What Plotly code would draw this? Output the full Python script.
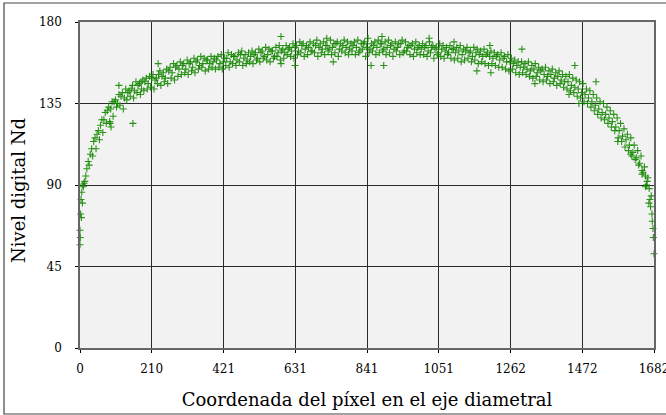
import plotly.graph_objects as go

# ---- data (pixel coordinate vs digital level) ----
xa = list(range(0, 1681, 10))
ya = [57, 89, 99, 107, 114, 118, 123, 126, 131, 132,
      136, 135, 139, 138, 141, 143, 142, 145, 143, 147,
      146, 149, 148, 151, 150, 149, 153, 152, 155, 154,
      156, 154, 157, 155, 158, 156, 157, 159, 157, 158,
      159, 157, 158, 160, 158, 161, 159, 162, 160, 159,
      161, 162, 160, 163, 161, 162, 164, 161, 163, 164,
      163, 165, 164, 166, 164, 167, 165, 166, 164, 167,
      166, 165, 167, 165, 166, 168, 165, 167, 166, 165,
      167, 166, 164, 168, 166, 165, 167, 166, 168, 165,
      166, 167, 165, 166, 168, 164, 166, 167, 165, 166,
      165, 166, 164, 166, 165, 163, 165, 164, 163, 165,
      163, 164, 162, 164, 163, 161, 163, 162, 161, 162,
      161, 160, 161, 159, 160, 158, 158, 157, 156, 155,
      155, 154, 153, 154, 152, 153, 151, 150, 151, 149,
      150, 148, 147, 147, 145, 144, 143, 141, 140, 138,
      136, 134, 132, 130, 129, 127, 125, 122, 120, 117,
      115, 112, 108, 105, 102, 97, 90, 82, 61]

xb = list(range(4, 1675, 10))
yb = [72, 92, 103, 110, 116, 120, 126, 130, 133, 136,
      137, 140, 141, 143, 142, 145, 147, 146, 148, 149,
      150, 151, 149, 153, 152, 154, 155, 157, 156, 158,
      157, 159, 158, 160, 159, 161, 160, 159, 161, 160,
      161, 162, 160, 163, 162, 161, 163, 164, 162, 163,
      164, 163, 165, 164, 166, 165, 164, 166, 167, 165,
      167, 166, 168, 167, 169, 168, 167, 169, 168, 170,
      168, 169, 167, 170, 168, 169, 168, 170, 169, 168,
      169, 170, 168, 169, 171, 168, 169, 170, 168, 169,
      170, 168, 169, 168, 170, 169, 167, 168, 169, 167,
      168, 167, 169, 167, 166, 168, 167, 166, 167, 165,
      166, 167, 165, 166, 164, 166, 165, 164, 165, 163,
      164, 163, 162, 163, 161, 162, 160, 159, 158, 158,
      157, 158, 156, 157, 155, 154, 155, 153, 154, 152,
      153, 151, 150, 151, 149, 148, 147, 146, 143, 142,
      140, 138, 136, 135, 133, 131, 129, 127, 124, 121,
      118, 116, 112, 109, 106, 100, 94, 84]

xc = list(range(7, 1678, 10))
yc = [80, 95, 101, 106, 110, 115, 119, 124, 125, 128,
      133, 134, 132, 137, 139, 138, 141, 140, 142, 143,
      144, 143, 146, 145, 147, 146, 149, 148, 150, 151,
      152, 151, 153, 152, 154, 155, 153, 154, 155, 154,
      155, 154, 156, 155, 157, 156, 158, 156, 157, 158,
      157, 159, 158, 160, 159, 158, 160, 161, 159, 160,
      162, 161, 160, 162, 163, 161, 162, 164, 163, 161,
      163, 162, 164, 162, 163, 161, 164, 163, 162, 164,
      162, 163, 165, 161, 163, 164, 162, 163, 164, 162,
      163, 161, 164, 162, 163, 164, 162, 161, 163, 162,
      162, 161, 163, 160, 162, 161, 160, 162, 160, 159,
      160, 158, 159, 160, 158, 159, 157, 158, 157, 156,
      157, 156, 155, 155, 154, 153, 154, 152, 151, 152,
      151, 150, 149, 150, 148, 147, 148, 146, 147, 145,
      146, 144, 143, 142, 141, 139, 138, 136, 135, 133,
      131, 129, 127, 126, 124, 122, 120, 116, 114, 111,
      109, 106, 104, 101, 96, 89, 80, 70]

x_extra = [0, 1, 2, 3, 5, 8, 12, 88, 91, 114, 155, 179, 229, 589, 589, 630,
           723, 742, 853, 885, 890, 1023, 1096, 1163, 1201, 1204, 1295, 1333,
           1433, 1450, 1462, 1512, 1576, 1614, 1647, 1657, 1662, 1668, 1672,
           1676, 1679, 1682]
y_extra = [65, 61, 74, 82, 86, 90, 91, 124, 122, 145, 124, 147, 157, 172, 157, 156,
           171, 158, 156, 172, 156, 171, 169, 153, 167, 152, 165, 146,
           140, 156, 135, 147, 114, 107, 98, 95, 92, 88, 78,
           74, 66, 52]

x_ticks = [0, 210, 421, 631, 841, 1051, 1262, 1472, 1682]
y_ticks = [0, 45, 90, 135, 180]
x_title = "Coordenada del píxel en el eje diametral"
y_title = "Nivel digital Nd"

xs = xa + xb + xc + x_extra
ys = ya + yb + yc + y_extra

FONT = "DejaVu Serif"
green = "rgba(20,135,0,0.9)"

fig = go.Figure()
fig.add_trace(go.Scatter(
    x=xs, y=ys, mode="markers",
    marker=dict(symbol="cross-thin", size=5, color=green,
                line=dict(color=green, width=1.1)),
    showlegend=False, hoverinfo="skip", cliponaxis=False))

axis_common = dict(
    showgrid=True, gridcolor="#2a2a2a", gridwidth=1,
    zeroline=False, showline=True, linecolor="#666666", linewidth=1.5,
    mirror=True, ticks="outside", ticklen=3, tickcolor="#000000",
    tickfont=dict(family=FONT, size=12, color="#000000"),
    automargin=False, ticklabeloverflow="allow",
)

fig.update_xaxes(range=[0, 1682], tickvals=x_ticks,
                 ticktext=[str(v) for v in x_ticks],
                 ticklabelstandoff=6,
                 title=dict(text=x_title,
                            font=dict(family=FONT, size=18, color="#000"),
                            standoff=18),
                 **axis_common)
fig.update_yaxes(range=[0, 180], tickvals=y_ticks,
                 ticktext=[str(v) for v in y_ticks],
                 ticklabelstandoff=11,
                 **axis_common)

fig.update_layout(
    width=666, height=415,
    margin=dict(l=80, r=12, t=22, b=67, autoexpand=False),
    paper_bgcolor="#ffffff", plot_bgcolor="#f2f2f2",
    font=dict(family=FONT, color="#000"),
    annotations=[dict(text=y_title, xref="paper", yref="paper",
                      x=(18 - 80) / 574, y=(348 - 191) / 326,
                      xanchor="center", yanchor="middle", textangle=-90,
                      showarrow=False,
                      font=dict(family=FONT, size=18, color="#000"))],
    shapes=[dict(type="rect", xref="paper", yref="paper",
                 x0=(4 - 80) / 574, x1=(672 - 80) / 574,
                 y0=(348 - 414) / 326, y1=(348 - 3) / 326,
                 line=dict(color="#444444", width=1.2),
                 fillcolor="rgba(0,0,0,0)", layer="below")],
)

fig.write_html("out.html")
